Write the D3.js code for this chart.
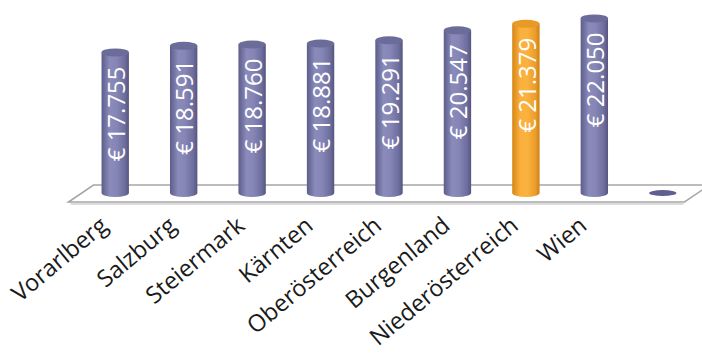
<!DOCTYPE html>
<html>
<head>
<meta charset="utf-8">
<script src="https://cdn.jsdelivr.net/npm/d3@7"></script>
<style>
  body { margin: 0; background: #fff; }
  svg { display: block; font-family: "Open Sans", sans-serif; }
</style>
</head>
<body>
<svg id="chart" width="702" height="356"></svg>
<script>
// regions, sorted by value; last slot is empty in the original
const categories = ["Vorarlberg", "Salzburg", "Steiermark", "Kärnten", "Oberösterreich", "Burgenland", "Niederösterreich", "Wien", ""];
const values = [17755, 18591, 18760, 18881, 19291, 20547, 21379, 22050, 0];
const highlight = ["Niederösterreich"];

const fmt = v => "€ " + d3.format(",")(v).replace(/,/g, ".");

const svg = d3.select("#chart");
const defs = svg.append("defs");

const x = d3.scaleBand().domain(categories).range([81, 697]).paddingInner(0.6).paddingOuter(0.3);
const y = d3.scaleLinear().domain([0, 24000]).range([193, 3]);

const ry = 4;
const skew = 12.5;
const floorBack = 185, floorFront = 202;

// gradients for cylinder bodies
function grad(id, stops) {
  const g = defs.append("linearGradient").attr("id", id).attr("x1", "0%").attr("x2", "100%");
  g.selectAll("stop").data(stops).enter().append("stop")
    .attr("offset", d => d[0]).attr("stop-color", d => d[1]);
}
grad("g-blue", [["0%", "#5d5d8a"], ["30%", "#8b8bbb"], ["55%", "#8585b6"], ["85%", "#6e6e9e"], ["100%", "#55557f"]]);
grad("g-orange", [["0%", "#d68716"], ["30%", "#fbb03c"], ["55%", "#fab23f"], ["85%", "#eb9c2a"], ["100%", "#cc7f14"]]);

// floor
const [r0, r1] = x.range();
const mid = (floorBack + floorFront) / 2;
const floorPts = [
  [r0 + skew * (mid - floorBack) / 8.5, floorBack],
  [r1 + skew * (mid - floorBack) / 8.5, floorBack],
  [r1 - skew * (floorFront - mid) / 8.5, floorFront],
  [r0 - skew * (floorFront - mid) / 8.5, floorFront]
];
svg.append("line")
  .attr("x1", floorPts[3][0] + 2).attr("x2", floorPts[2][0] - 1)
  .attr("y1", floorFront + 2).attr("y2", floorFront + 2)
  .attr("stroke", "#dcdcdc").attr("stroke-width", 2);
svg.append("polygon")
  .attr("points", floorPts.map(p => p.join(",")).join(" "))
  .attr("fill", "#fff")
  .attr("stroke", "#a6a6a6")
  .attr("stroke-width", 1.6);

const bars = svg.append("g").selectAll("g")
  .data(categories.map((c, i) => ({ cat: c, value: values[i] })))
  .enter().append("g");

const isHi = d => highlight.includes(d.cat);

bars.filter(d => d.value > 0).append("path")
  .attr("d", d => {
    const l = x(d.cat), w = x.bandwidth(), r = l + w, top = y(d.value), base = y(0);
    return `M${l},${top} L${l},${base} A${w / 2},${ry} 0 0 0 ${r},${base} L${r},${top} Z`;
  })
  .attr("fill", d => isHi(d) ? "url(#g-orange)" : "url(#g-blue)");

bars.append("ellipse")
  .attr("cx", d => x(d.cat) + x.bandwidth() / 2)
  .attr("cy", d => y(d.value))
  .attr("rx", x.bandwidth() / 2)
  .attr("ry", d => d.value > 0 ? ry : 3)
  .attr("fill", d => isHi(d) ? "#e89a26" : (d.value > 0 ? "#6c6c9b" : "#5e5e90"));

// value labels inside cylinders
bars.filter(d => d.value > 0).append("text")
  .attr("transform", d => `translate(${x(d.cat) + x.bandwidth() / 2 + 1},${y(d.value) + 14}) rotate(-90)`)
  .attr("text-anchor", "end")
  .attr("dy", "0.36em")
  .attr("fill", "#fff")
  .style("font-size", "24px")
  .text(d => fmt(d.value));

// category labels
svg.append("g").selectAll("text")
  .data(categories.filter(c => c !== ""))
  .enter().append("text")
  .attr("transform", c => `translate(${x(c) + x.bandwidth() / 2 - 6},${228}) rotate(-40)`)
  .attr("text-anchor", "end")
  .attr("fill", "#1a1a1a")
  .style("font-size", "23.5px")
  .text(c => c);
</script>
</body>
</html>
